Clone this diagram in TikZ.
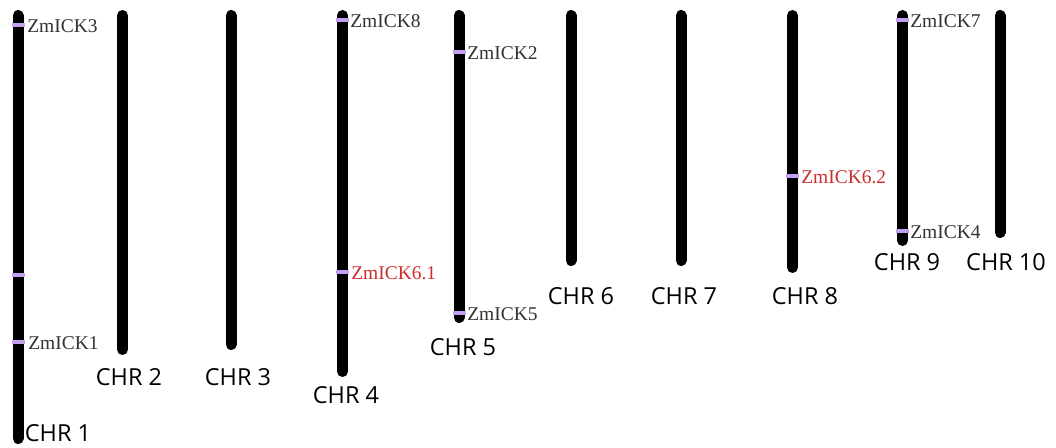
\documentclass[tikz,border=0pt]{standalone}
\usepackage{fontspec}
\setmainfont{Liberation Serif}
\newfontfamily\chrfont{Open Sans}
\definecolor{genecol}{RGB}{196,160,240}
\definecolor{txtgray}{RGB}{50,50,50}
\definecolor{txtred}{RGB}{205,45,45}
\tikzset{
  chrom/.style={line width=8.25pt, line cap=round, draw=black},
  gene/.style={line width=3.4pt, draw=genecol},
  glabel/.style={anchor=west, inner sep=0pt, text=txtgray, font=\fontsize{14.6}{16}\selectfont},
  redlabel/.style={glabel, text=txtred},
  chrlabel/.style={inner sep=0pt, text=black, font=\chrfont\fontsize{17.6}{20}\selectfont}
}
\newcommand{\mychrom}[5]{% name, x, top, bottom
  \coordinate (#1t) at (#2,#3+5.5);
  \coordinate (#1b) at (#2,#4-5.5);
  \draw[chrom] (#1t) -- (#1b);
}
\newcommand{\mygene}[3]{% name, x, y
  \coordinate (#1l) at (#2-6.5,#3);
  \coordinate (#1r) at (#2+6.5,#3);
  \draw[gene] (#1l) -- (#1r);
}
\begin{document}
\begin{tikzpicture}[x=0.75pt,y=-0.75pt]
\useasboundingbox (0,0) rectangle (1056,448);
\fill[white] (0,0) rectangle (1056,448);
% chromosomes
\mychrom{c1}{18}{10}{444}{}
\mychrom{c2}{122.5}{10}{355}{}
\mychrom{c3}{231}{10}{350}{}
\mychrom{c4}{342.5}{10}{377}{}
\mychrom{c5}{459}{10}{323}{}
\mychrom{c6}{571}{10}{266}{}
\mychrom{c7}{681}{10}{266}{}
\mychrom{c8}{792.5}{10}{273}{}
\mychrom{c9}{902.5}{10}{246}{}
\mychrom{c10}{1000}{10}{238}{}
% genes
\mygene{g3}{18}{25}
\mygene{gx}{18}{275}
\mygene{g1}{18}{342}
\mygene{g8}{342.5}{20}
\mygene{g61}{342.5}{272}
\mygene{g2}{459}{52}
\mygene{g5}{459}{313}
\mygene{g62}{792.5}{176}
\mygene{g7}{902.5}{20}
\mygene{g4}{902.5}{231}
% gene labels
\node[glabel] (lg3) at (27,26) {ZmICK3};
\node[glabel] (lg1) at (28,343) {ZmICK1};
\node[glabel] (lg8) at (350,21) {ZmICK8};
\node[redlabel] (lg61) at (351,273) {ZmICK6.1};
\node[glabel] (lg2) at (467,53) {ZmICK2};
\node[glabel] (lg5) at (467,314) {ZmICK5};
\node[redlabel] (lg62) at (801,177) {ZmICK6.2};
\node[glabel] (lg7) at (910,21) {ZmICK7};
\node[glabel] (lg4) at (910,232) {ZmICK4};
% chromosome labels
\node[chrlabel] (n1) at (58,433) {CHR 1};
\node[chrlabel] (n2) at (129,377) {CHR 2};
\node[chrlabel] (n3) at (238,377) {CHR 3};
\node[chrlabel] (n4) at (346,395) {CHR 4};
\node[chrlabel] (n5) at (463,347) {CHR 5};
\node[chrlabel] (n6) at (581,296) {CHR 6};
\node[chrlabel] (n7) at (684,296) {CHR 7};
\node[chrlabel] (n8) at (805,296) {CHR 8};
\node[chrlabel] (n9) at (907,262) {CHR 9};
\node[chrlabel] (n10) at (1006,262) {CHR 10};
\end{tikzpicture}
\end{document}
